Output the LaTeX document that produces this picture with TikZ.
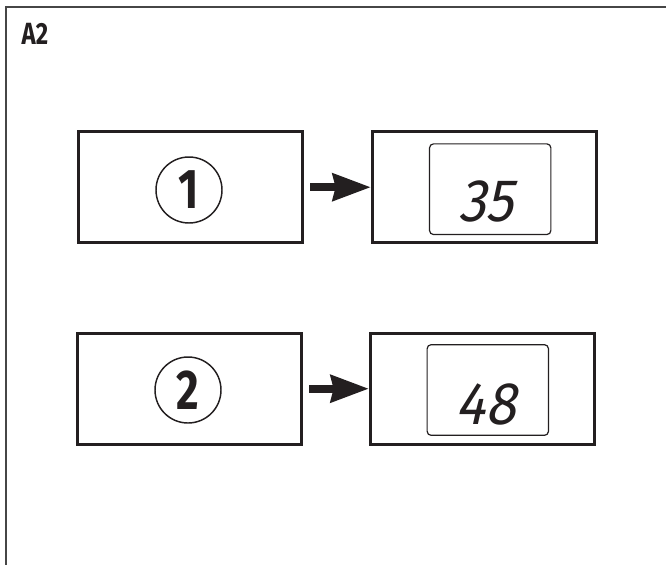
\documentclass[tikz,border=0pt]{standalone}
\usepackage{fontspec}
\setmainfont{Fira Sans}
\newfontfamily\labelfont{Fira Sans}[FakeStretch=0.78]
\newfontfamily\lcdfont{Fira Sans}[FakeSlant=0.22,FakeStretch=0.92]
\usetikzlibrary{arrows.meta}
\definecolor{inkblack}{RGB}{35,31,32}
\definecolor{framegray}{RGB}{70,70,70}

\tikzset{
  panel/.style={draw=inkblack, line width=2.25pt, minimum width=168pt, minimum height=83pt, inner sep=0pt},
  numdisc/.style={circle, draw=inkblack, line width=1.1pt, minimum size=49.5pt, inner sep=0pt,
    font=\labelfont\bfseries\fontsize{42}{42}\selectfont, text=inkblack},
  lcdwindow/.style={draw=inkblack, line width=0.9pt, rounded corners=3pt, minimum width=91pt, minimum height=68pt, inner sep=0pt},
  lcdtext/.style={inner sep=0pt, font=\lcdfont\fontsize{45}{45}\selectfont, text=inkblack},
  goesto/.style={-{Stealth[length=28.5pt,width=20pt,inset=2pt]}, line width=6pt, draw=inkblack, shorten <=4.5pt}
}

\begin{document}
\begin{tikzpicture}[x=0.75pt,y=0.75pt,yscale=-1,xscale=1]
\useasboundingbox (0,0) rectangle (666,565);

%Frame (cropped)
\draw [color=framegray, line width=1.5pt] (666,6.5) -- (6,6.5) -- (6,565) ;

% Text Node
\node [inner sep=0pt, font=\labelfont\bfseries\fontsize{23}{23}\selectfont, text=inkblack] (title) at (35,33.8) {A2};

%Shape: Rectangle
\node [panel] (key1) at (190.7,187.2) {};
\node [panel] (show1) at (484.5,187.2) {};
%Shape: Rectangle
\node [panel] (key2) at (189.5,388.7) {};
\node [panel] (show2) at (482.5,388.7) {};

%Shape: Circle
\node [numdisc] (num1) at (189,190) {1};
\node [numdisc] (num2) at (188,390) {2};

%Shape: Rounded Rect
\node [lcdwindow] (lcd1) at (490.2,189.2) {};
\node [lcdwindow] (lcd2) at (487.8,390) {};

% Text Node
\node [lcdtext] (read1) at (486,201) {35};
\node [lcdtext] (read2) at (485.8,404) {48};

%Straight Lines
\draw [goesto] (key1.east) -- (show1.west) ;
\draw [goesto] (key2.east) -- (show2.west) ;

\end{tikzpicture}
\end{document}
